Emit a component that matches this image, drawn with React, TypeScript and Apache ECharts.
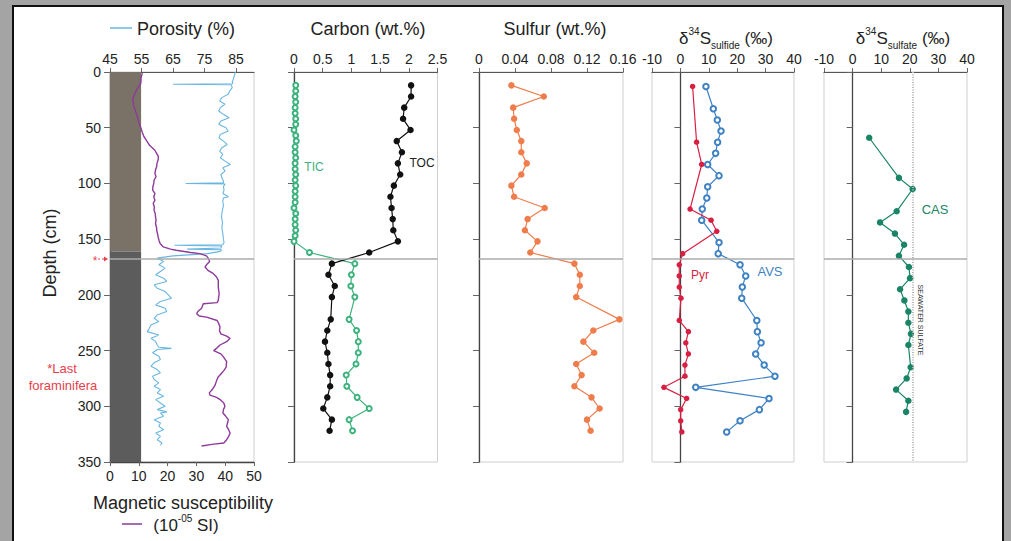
import React, { useEffect, useRef } from 'react';
import * as echarts from 'echarts';

const FONT = '"Liberation Sans", Arial, Helvetica, sans-serif';

// ---------------- data ----------------
const porosityTicks = [45, 55, 65, 75, 85];

const porDepth = [0,3,6,9,10.5,11,11.5,14,17,20,23,26,29,32,35,38,41,44,47,50,53,56,59,62,65,68,71,74,77,80,83,86,89,92,95,98,99.5,100,100.5,103,106,109,112,113,116,120,125,130,135,140,145,150,153,155,155.5,156,158,159,159.5,161,163,165,167,
  170,173,176,179,182,185,188,191,194,197,200,203,206,209,212,215,218,221,224,227,230,233,236,239,242,245,247,248,249,252,255,258,261,264,267,270,273,276,279,282,285,288,291,294,297,300,303,305,306,309,312,315,318,321,324,327,330,333,335];
const porValue = [84.8,84.5,84.2,83.8,84,65,83.5,83.8,83,82.5,80.5,79.8,81.5,80,79.5,81,82.8,80.2,79.5,81.8,82.5,80,79.6,81,82.2,80.5,79.8,80.8,80,81.5,83.2,80.8,81.5,80.2,80.5,81,81,69,81.5,81,81.2,80.8,82.6,81,80.8,81,80.6,80.4,80.7,80.5,80.8,81,81.2,80.8,65.5,80.5,80.2,69.5,80.5,80,76,65,60,
  62,60.5,62.5,61,59.5,62,63,59,60,62.5,63.5,64.5,61,59.5,62.5,63,60,59,60.5,58,57.5,56.8,60.5,58,59.5,60,60.5,64.5,60,58.5,60.5,61,59,58,60,61,58.5,59,60.5,59,61,60,62,59.5,61,62.5,60,63,61,62,59,61,60.5,62,59.5,61,60,61.5,61];

const magDepth = [1,5,10,15,19,22,25,30,34,40,43,47,50,54,58,62,66,70,73,76,79,82,85,88,91,94,97,100,103,106,109,112,115,118,121,124,127,130,133,136,140,142,145,148,151,154,157,159,160,162,163,165,167,170,173,175,178,181,184,187,193,199,205,207,208,212,215,217,219,220,223,226,229,232,235,237,239,242,245,248,250,253,256,260,265,268,271,274,277,281,285,288,290,292,294,297,300,303,306,309,312,315,318,321,324,327,330,333,334,335.7];
const magValue = [11.2,10.8,10.7,9.5,8.7,8.2,7.9,8.2,8.7,9.5,9.8,10.2,10.7,11.2,11.8,12.8,13.8,15.5,16.2,16.8,16.7,16.3,16.2,15.8,15.6,16.0,15.3,15.2,14.9,14.8,15.6,15.2,15.6,15.0,15.4,15.3,15.7,15.8,16.0,15.8,16.2,16.2,16.5,16.7,17.0,17.4,18.5,21,23,28,31.2,33.5,34.1,34.6,33.5,33.0,34,35.9,37,37.6,37.6,37.9,37.6,37.2,32.4,31.8,30.5,30.1,31,33.5,37.2,37.8,38.2,38,38.5,40.5,41.7,40.5,38.2,37,36,38.5,39.5,40.5,40.3,39.5,38.5,37.5,37,36.5,35.5,34.5,34.7,37,38.2,39.5,39.9,39.4,39.2,40.2,41.1,40.8,40.5,41.2,41.7,41.2,40.5,39.5,36,31.8];

const carbonDepth = [12,22,32,42,52,62,72,82,92,102,112,122,132,142,152,162,172,182,192,202,222,232,242,252,262,272,282,292,302,312,322];
const tocValue = [2.04,2.04,1.92,1.90,2.03,1.79,1.88,1.81,1.85,1.74,1.68,1.70,1.72,1.73,1.81,1.31,0.66,0.60,0.71,0.66,0.64,0.58,0.54,0.58,0.60,0.63,0.63,0.58,0.51,0.66,0.62];

const ticDepth = [12,17,22,27,32,37,42,47,52,57,62,67,72,77,82,87,92,97,102,107,112,117,122,127,132,137,142,147,152,162,172,182,192,202,222,232,242,252,262,272,282,292,302,312,322];
const ticValue = [0.03,0.03,0.02,0.03,0.02,0.02,0.03,0.03,0.0,0.03,0.04,0.02,0.02,0.03,0.02,0.02,0.03,0.02,0.03,0.02,0.02,0.02,0.0,0.03,0.02,0.02,0.03,0.02,0.0,0.27,1.06,1.00,0.99,1.06,0.96,1.09,1.12,1.12,1.08,0.91,0.92,1.10,1.31,0.96,1.02];

const sulfurDepth = [12,22,32,42,52,62,72,82,92,102,112,122,132,142,152,162,172,182,192,202,222,232,242,252,262,272,282,292,302,312,322];
const sulfurValue = [0.036,0.072,0.038,0.039,0.042,0.047,0.047,0.053,0.047,0.036,0.039,0.073,0.054,0.051,0.065,0.057,0.106,0.112,0.112,0.108,0.156,0.127,0.116,0.128,0.108,0.114,0.106,0.125,0.134,0.120,0.124];

const pyrDepth = [13,63,83,123,133,143,163,173,183,193,203,223,233,243,253,263,273,283,293,303,313,323];
const pyrValue = [4.3,5.7,7.5,3.4,10.8,12.8,0.8,-0.4,-0.4,-0.4,0.2,-0.4,2.8,1.9,2.8,1.6,1.6,-5.8,2.2,0.1,0.1,0.5];

const avsDepth = [13,33,43,53,63,73,83,93,103,113,123,133,153,163,173,183,193,203,223,233,243,253,263,273,283,293,303,313,323];
const avsValue = [9.0,11.6,13.0,14.3,13.1,12.4,9.6,13.6,9.6,9.3,7.7,7.5,13.6,13.3,21.0,23.0,21.8,21.6,26.9,27.1,28.4,26.5,29.5,33.3,5.4,31.2,27.8,21.0,16.3];

const casDepth = [59,95,105,125,135,145,155,165,175,185,195,205,215,225,235,245,265,275,285,295,305];
const casValue = [5.8,16.2,21.0,15.4,9.6,14.8,18.0,16.2,19.7,20.1,16.6,18.1,19.5,19.5,20.4,19.5,20.3,18.9,15.2,19.5,18.7];

const boundaryDepth = 168;
const lakeBottom = 161;
const seawaterSulfate = 21;

// ---------------- styles ----------------
const C = {
  por: '#6ab6e2',
  mag: '#8d3a9b',
  toc: '#111111',
  tic: '#3cb27c',
  sulfur: '#ef7d4c',
  pyr: '#d71f42',
  avs: '#3f82c4',
  cas: '#1a8566',
  lake: '#7a7266',
  marine: '#5c5c5c',
  red: '#e6404c',
};

const zip = (xs: number[], ds: number[]) => xs.map((v, i) => [v, ds[i]]);

const boundaryLine = {
  silent: true,
  symbol: ['none', 'none'],
  label: { show: false },
  lineStyle: { color: '#ababab', width: 1.5, type: 'solid' },
  data: [{ yAxis: boundaryDepth }],
};

export default function App() {
  const ref = useRef<HTMLDivElement>(null);
  useEffect(() => {
    if (!ref.current) return;
    const chart = echarts.init(ref.current, null, { renderer: 'svg' });

    const grids = [
      { left: 110, top: 72, width: 144, height: 390 },
      { left: 294, top: 72, width: 143.5, height: 390 },
      { left: 479, top: 72, width: 144, height: 390 },
      { left: 652, top: 72, width: 142, height: 390 },
      { left: 824, top: 72, width: 143, height: 390 },
    ].map((g) => ({ ...g, show: true, borderColor: '#cfcfcf', borderWidth: 1, backgroundColor: 'transparent' }));

    const topAxis = (gridIndex: number, min: number, max: number, interval: number, extra: any = {}) => ({
      type: 'value', gridIndex, position: 'top', min, max, interval,
      axisLine: { show: true, onZero: false, lineStyle: { color: '#555', width: 1.2 } },
      axisTick: { show: true, length: 4, lineStyle: { color: '#666' } },
      axisLabel: { fontSize: 14, color: '#222', margin: 6, fontFamily: FONT },
      splitLine: { show: false },
      ...extra,
    });

    const yAx = (gridIndex: number, showLabel: boolean, onZero: boolean) => ({
      type: 'value', gridIndex, inverse: true, min: 0, max: 350, interval: 50,
      axisLine: { show: true, onZero, lineStyle: { color: '#444', width: 1.3 } },
      axisTick: { show: true, length: 6, lineStyle: { color: '#666' } },
      axisLabel: { show: showLabel, fontSize: 14, color: '#222', margin: 9, fontFamily: FONT },
      splitLine: { show: false },
    });

    const xAxes = [
      topAxis(0, 45, 90.7, 10, {
        axisLabel: { fontSize: 14, color: '#222', margin: 6, fontFamily: FONT, customValues: porosityTicks },
        axisTick: { show: true, length: 4, lineStyle: { color: '#666' }, customValues: porosityTicks },
      }),
      {
        type: 'value', gridIndex: 0, position: 'bottom', min: 0, max: 50, interval: 10,
        axisLine: { show: true, onZero: false, lineStyle: { color: '#444', width: 1.3 } },
        axisTick: { show: true, length: 4, lineStyle: { color: '#666' } },
        axisLabel: { fontSize: 14, color: '#222', margin: 7, fontFamily: FONT },
        splitLine: { show: false },
      },
      topAxis(1, 0, 2.5, 0.5),
      topAxis(2, 0, 0.16, 0.04),
      topAxis(3, -10, 40, 10),
      topAxis(4, -10, 40, 10),
    ];

    const yAxes = [yAx(0, true, false), yAx(1, false, false), yAx(2, false, false), yAx(3, false, true), yAx(4, false, true)];

    const dotSeries = (name: string, xi: number, yi: number, data: number[][], color: string, symbol: string, size: number, extra: any = {}) => ({
      type: 'line', name, xAxisIndex: xi, yAxisIndex: yi, data,
      symbol, symbolSize: size, showSymbol: true,
      lineStyle: { color, width: 1.2 },
      itemStyle: { color, borderColor: color, borderWidth: symbol === 'emptyCircle' ? 1.4 : 0 },
      z: 3,
      ...extra,
    });

    const option: any = {
      animation: false,
      backgroundColor: 'transparent',
      textStyle: { fontFamily: FONT },
      grid: grids,
      xAxis: xAxes,
      yAxis: yAxes,
      series: [
        {
          type: 'line', xAxisIndex: 1, yAxisIndex: 0, data: [[0, 0]], symbol: 'none',
          lineStyle: { width: 0, opacity: 0 }, z: 1, silent: true,
          markArea: {
            silent: true,
            data: [
              [{ xAxis: 0, yAxis: 0, itemStyle: { color: C.lake } }, { xAxis: 10.8, yAxis: lakeBottom }],
              [{ xAxis: 0, yAxis: lakeBottom, itemStyle: { color: C.marine } }, { xAxis: 10.8, yAxis: 350 }],
            ],
          },
        },
        {
          type: 'line', name: 'Porosity', xAxisIndex: 0, yAxisIndex: 0, data: zip(porValue, porDepth),
          showSymbol: false, symbol: 'none', lineStyle: { color: C.por, width: 1.1 }, z: 3,
          markLine: boundaryLine,
        },
        {
          type: 'line', name: 'Magnetic', xAxisIndex: 1, yAxisIndex: 0, data: zip(magValue, magDepth),
          showSymbol: false, symbol: 'none', lineStyle: { color: C.mag, width: 1.4 }, z: 3,
        },
        dotSeries('TIC', 2, 1, zip(ticValue, ticDepth), C.tic, 'emptyCircle', 5, { markLine: boundaryLine }),
        dotSeries('TOC', 2, 1, zip(tocValue, carbonDepth), C.toc, 'circle', 6.5),
        dotSeries('Sulfur', 3, 2, zip(sulfurValue, sulfurDepth), C.sulfur, 'circle', 6.5, { markLine: boundaryLine }),
        dotSeries('AVS', 4, 3, zip(avsValue, avsDepth), C.avs, 'emptyCircle', 5.5, { markLine: boundaryLine }),
        dotSeries('Pyr', 4, 3, zip(pyrValue, pyrDepth), C.pyr, 'circle', 5.5),
        dotSeries('CAS', 5, 4, zip(casValue, casDepth), C.cas, 'circle', 6.5, {
          markLine: {
            silent: true, symbol: ['none', 'none'], label: { show: false },
            data: [
              { yAxis: boundaryDepth, lineStyle: { color: '#ababab', width: 1.5, type: 'solid' } },
              { xAxis: seawaterSulfate, lineStyle: { color: '#b8b8b8', width: 2, type: [1, 1.5] } },
            ],
          },
        }),
      ],
      graphic: [
        // titles
        { type: 'line', shape: { x1: 110, y1: 28, x2: 132, y2: 28 }, style: { stroke: C.por, lineWidth: 1.5 } },
        { type: 'text', x: 186, y: 29, style: { text: 'Porosity (%)', fontSize: 18, fill: '#222', font: `18px ${FONT}`, textAlign: 'center', textVerticalAlign: 'middle' } },
        { type: 'text', x: 368, y: 29, style: { text: 'Carbon (wt.%)', fontSize: 18, fill: '#222', font: `18px ${FONT}`, textAlign: 'center', textVerticalAlign: 'middle' } },
        { type: 'text', x: 555, y: 29, style: { text: 'Sulfur (wt.%)', fontSize: 18, fill: '#222', font: `18px ${FONT}`, textAlign: 'center', textVerticalAlign: 'middle' } },
        {
          type: 'text', x: 726, y: 38,
          style: {
            text: '{a|δ}{sup|34}{a|S}{sub|sulfide}{a| (‰)}', textAlign: 'center', textVerticalAlign: 'middle',
            rich: {
              a: { fontSize: 17, fontFamily: FONT, fill: '#222', lineHeight: 24 },
              sup: { fontSize: 10, fontFamily: FONT, fill: '#222', lineHeight: 14, verticalAlign: 'top' },
              sub: { fontSize: 10, fontFamily: FONT, fill: '#222', lineHeight: 10, verticalAlign: 'bottom' },
            },
          },
        },
        {
          type: 'text', x: 903, y: 38,
          style: {
            text: '{a|δ}{sup|34}{a|S}{sub|sulfate}{a| (‰)}', textAlign: 'center', textVerticalAlign: 'middle',
            rich: {
              a: { fontSize: 17, fontFamily: FONT, fill: '#222', lineHeight: 24 },
              sup: { fontSize: 10, fontFamily: FONT, fill: '#222', lineHeight: 14, verticalAlign: 'top' },
              sub: { fontSize: 10, fontFamily: FONT, fill: '#222', lineHeight: 10, verticalAlign: 'bottom' },
            },
          },
        },
        // depth label
        { type: 'text', x: 50, y: 253, rotation: Math.PI / 2, style: { text: 'Depth (cm)', font: `18px ${FONT}`, fill: '#222', textAlign: 'center', textVerticalAlign: 'middle' } },
        // bottom magnetic title
        { type: 'text', x: 183, y: 503, style: { text: 'Magnetic susceptibility', font: `18px ${FONT}`, fill: '#222', textAlign: 'center', textVerticalAlign: 'middle' } },
        { type: 'line', shape: { x1: 122, y1: 524, x2: 142, y2: 524 }, style: { stroke: C.mag, lineWidth: 1.5 } },
        {
          type: 'text', x: 186, y: 525,
          style: {
            text: '{a|(10}{sup|-05}{a| SI)}', textAlign: 'center', textVerticalAlign: 'middle',
            rich: {
              a: { fontSize: 17, fontFamily: FONT, fill: '#222', lineHeight: 24 },
              sup: { fontSize: 10, fontFamily: FONT, fill: '#222', lineHeight: 14, verticalAlign: 'top' },
            },
          },
        },
        // column labels
        { type: 'text', x: 126, y: 177, rotation: Math.PI / 2, style: { text: 'lake', font: `13px ${FONT}`, fill: '#e2ddd4', textAlign: 'center', textVerticalAlign: 'middle' } },
        { type: 'text', x: 126, y: 363, rotation: Math.PI / 2, style: { text: 'marine', font: `13px ${FONT}`, fill: '#e2e2e2', textAlign: 'center', textVerticalAlign: 'middle' } },
        // last foraminifera
        { type: 'text', x: 62, y: 368, style: { text: '*Last', font: `13px ${FONT}`, fill: C.red, textAlign: 'center', textVerticalAlign: 'middle' } },
        { type: 'text', x: 63, y: 385, style: { text: 'foraminifera', font: `13px ${FONT}`, fill: C.red, textAlign: 'center', textVerticalAlign: 'middle' } },
        { type: 'text', x: 95, y: 261, style: { text: '*', font: `12px ${FONT}`, fill: C.red, textAlign: 'center', textVerticalAlign: 'middle' } },
        { type: 'line', shape: { x1: 98, y1: 259, x2: 106, y2: 259 }, style: { stroke: C.red, lineWidth: 1, lineDash: [2, 2] } },
        { type: 'polygon', shape: { points: [[104, 256.5], [108, 259], [104, 261.5]] }, style: { fill: C.red } },
        // series labels
        { type: 'text', x: 314, y: 167, style: { text: 'TIC', font: `12px ${FONT}`, fill: C.tic, textAlign: 'center', textVerticalAlign: 'middle' } },
        { type: 'text', x: 422, y: 163, style: { text: 'TOC', font: `12px ${FONT}`, fill: '#222', textAlign: 'center', textVerticalAlign: 'middle' } },
        { type: 'text', x: 700, y: 275, style: { text: 'Pyr', font: `12px ${FONT}`, fill: C.pyr, textAlign: 'center', textVerticalAlign: 'middle' } },
        { type: 'text', x: 770, y: 271, style: { text: 'AVS', font: `13px ${FONT}`, fill: C.avs, textAlign: 'center', textVerticalAlign: 'middle' } },
        { type: 'text', x: 935, y: 209, style: { text: 'CAS', font: `13px ${FONT}`, fill: C.cas, textAlign: 'center', textVerticalAlign: 'middle' } },
        { type: 'text', x: 920, y: 320, rotation: -Math.PI / 2, style: { text: 'SEAWATER SULFATE', font: `7px ${FONT}`, fill: '#333', textAlign: 'center', textVerticalAlign: 'middle' } },
      ],
    };

    chart.setOption(option);
    return () => chart.dispose();
  }, []);

  return (
    <div style={{ position: 'fixed', left: 0, top: 0, width: 1011, height: 541, background: '#a4a4a4', overflow: 'hidden' }}>
      <div style={{ position: 'absolute', left: 12, top: 5, width: 992, height: 560, background: '#fff', border: '2px solid #111', boxSizing: 'border-box' }} />
      <div ref={ref} style={{ position: 'absolute', left: 0, top: 0, width: 1011, height: 541 }} />
    </div>
  );
}
